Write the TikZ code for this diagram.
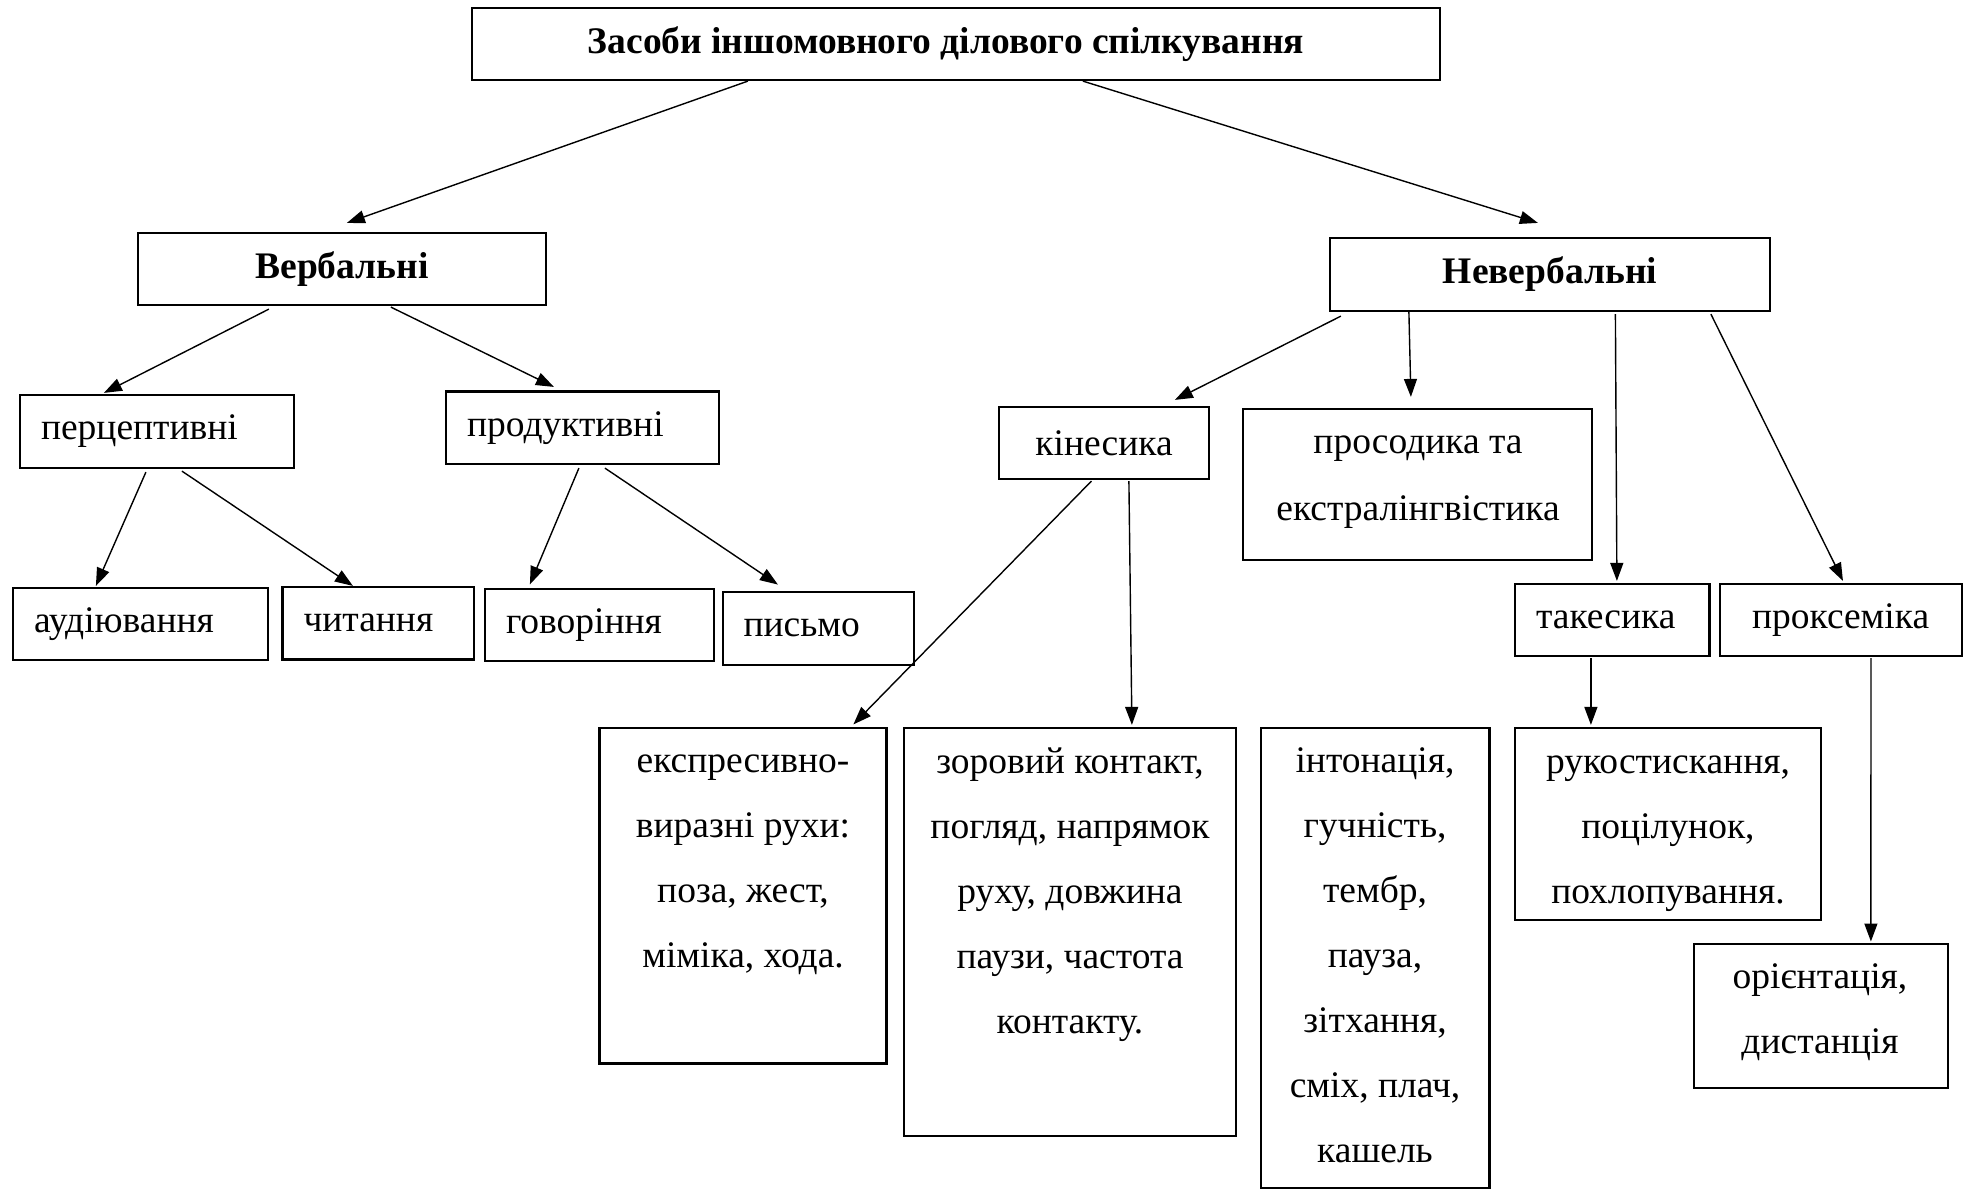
\documentclass[tikz,border=0pt]{standalone}
\usepackage{fontspec}
\setmainfont{Liberation Serif}
\usetikzlibrary{arrows.meta,calc}
\newcommand{\basefont}{\fontsize{18.75}{32.5}\selectfont}
\tikzset{
  box/.style={draw, line width=1.1pt, inner sep=0pt},
  bbox/.style={box, font=\basefont\bfseries},
  lbox/.style={box, align=left, inner xsep=10.5pt},
  arr/.style={-{Triangle[length=9pt,width=6.5pt]}, line width=0.7pt},
  txt/.style={align=center, inner sep=0pt},
}
\begin{document}
\begin{tikzpicture}[x=0.5pt, y=-0.5pt, font=\basefont]
\useasboundingbox (0,0) rectangle (1971,1190);
% top level
\node[bbox, minimum width=484pt, minimum height=36pt] (title) at (956,44) {Засоби іншомовного ділового спілкування\hspace*{10pt}};
\node[bbox, minimum width=204pt, minimum height=36pt] (verbal) at (342,269) {Вербальні};
\node[bbox, minimum width=220pt, minimum height=36.5pt] (nonverbal) at (1550,274.5) {Невербальні};
% verbal branch
\node[lbox, text width=116pt, minimum height=36.5pt] (perc) at (157,431.5) {перцептивні};
\node[lbox, text width=115.5pt, minimum height=36.25pt] (prod) at (582.5,427.75) {продуктивні};
\node[lbox, text width=106.5pt, minimum height=36pt] (audio) at (140.5,624) {аудіювання};
\node[lbox, text width=74.75pt, minimum height=36.25pt] (read) at (378.25,623.25) {читання};
\node[lbox, text width=93.5pt, minimum height=35.8pt] (speak) at (599.5,624.8) {говоріння};
\node[lbox, text width=74.7pt, minimum height=36.5pt] (write) at (818.3,628.15) {письмо};
% nonverbal branch
\node[box, minimum width=105pt, minimum height=36pt] (kines) at (1104,443) {кінесика};
\node[box, minimum width=174.5pt, minimum height=75.5pt] (prosod) at (1417.5,484.5) {};
\node[txt, font=\fontsize{18.75}{33.5}\selectfont] (prosodt) at (1418,482) {просодика та\\екстралінгвістика};
\node[lbox, text width=76.25pt, minimum height=36pt] (takes) at (1612.25,620) {такесика};
\node[box, minimum width=121pt, minimum height=36pt] (proks) at (1840.65,620) {проксеміка};
\node[box, minimum width=143.5pt, minimum height=167.75pt] (expr) at (743,895.75) {};
\node[txt] (exprt) at (743,865) {експресивно-\\виразні рухи:\\поза, жест,\\міміка, хода.};
\node[box, minimum width=166pt, minimum height=203.85pt] (zor) at (1070,931.85) {};
\node[txt] (zort) at (1070,894.5) {зоровий контакт,\\погляд, напрямок\\руху, довжина\\паузи, частота\\контакту.};
\node[box, minimum width=114.4pt, minimum height=230pt] (inton) at (1375.1,958) {};
\node[txt] (intont) at (1375,955) {інтонація,\\гучність,\\тембр,\\пауза,\\зітхання,\\сміх, плач,\\кашель};
\node[box, minimum width=153pt, minimum height=96pt] (ruk) at (1668,824) {};
\node[txt] (rukt) at (1668,834) {рукостискання,\\поцілунок,\\похлопування.};
\node[box, minimum width=127.2pt, minimum height=72pt] (orient) at (1820.8,1016) {};
\node[txt] (orientt) at (1820,1012) {орієнтація,\\дистанція};
% connectors
\draw[arr] ($(title.south west)+(277,0)$) -- ($(verbal.north west)+(210,-9)$);
\draw[arr] ($(title.south west)+(612,0)$) -- ($(nonverbal.north west)+(209,-14)$);
\draw[arr] ($(verbal.south west)+(132,3)$) -- ($(perc.north west)+(85,-1)$);
\draw[arr] ($(verbal.south west)+(254,1)$) -- ($(prod.north west)+(109,-3.5)$);
\draw[arr] ($(perc.south west)+(127,3)$) -- ($(audio.north west)+(84,-1)$);
\draw[arr] ($(perc.south west)+(163,2)$) -- ($(read.north west)+(71.5,0)$);
\draw[arr] ($(prod.south west)+(134,3)$) -- ($(speak.north west)+(46,-3.5)$);
\draw[arr] ($(prod.south west)+(160,3)$) -- ($(write.north west)+(56.4,-6)$);
\draw[arr] ($(nonverbal.south west)+(12,4)$) -- ($(kines.north west)+(177,-6)$);
\draw[arr] ($(nonverbal.south west)+(80,0)$) -- ($(prosod.north west)+(169,-11)$);
\draw[arr] ($(nonverbal.south west)+(286.5,2)$) -- ($(takes.north west)+(103,-2)$);
\draw[arr] ($(nonverbal.south west)+(382,2)$) -- ($(proks.north west)+(124.4,-2)$);
\draw[arr] ($(kines.south west)+(93.5,1)$) -- ($(expr.north west)+(255,-2.5)$);
\draw[arr] ($(kines.south west)+(131,1)$) -- ($(zor.north west)+(229,-2)$);
\draw[arr] ($(takes.south west)+(77,1)$) -- ($(ruk.north west)+(77,-2)$);
\draw[arr] ($(proks.south west)+(152.4,1)$) -- ($(orient.north west)+(178.4,-1.4)$);
\end{tikzpicture}
\end{document}
